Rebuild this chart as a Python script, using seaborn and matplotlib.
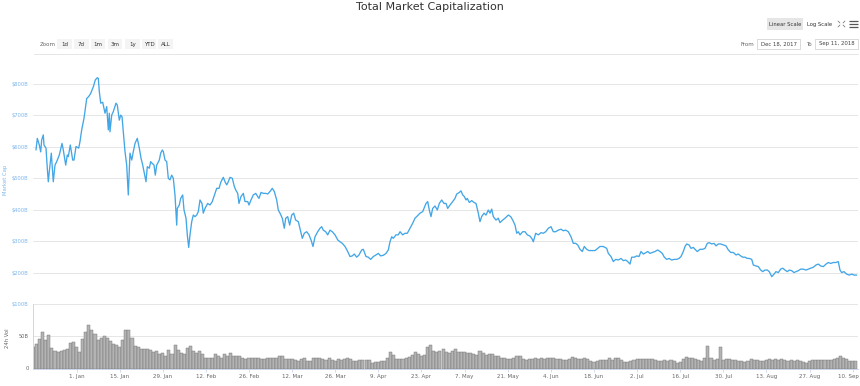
import numpy as np
import pandas as pd
import matplotlib
matplotlib.use("Agg")
import matplotlib.pyplot as plt
import matplotlib.transforms as mtransforms
import seaborn as sns
from matplotlib.patches import Rectangle

sns.set_theme(style="white")
plt.rcParams['font.family'] = ['DejaVu Sans']

# ---------------- data ----------------
start_date = "2017-12-18"

# days since 18 Dec 2017, market cap in $B
cap_day = [0.84, 1.27, 1.92, 2.37, 2.69, 3.21, 3.44, 4.09, 4.51, 4.84, 5.16, 5.81, 6.46, 7.01, 7.56, 8.41,
           9.29, 9.71, 10.49, 11.01, 11.33, 11.98, 12.76, 13.18, 13.83, 14.71, 15.13, 15.68, 16.43, 17.31,
           17.95, 18.60, 19.03, 19.45, 20.10, 20.75, 21.07, 21.40, 21.85, 22.50, 23.25, 23.80, 24.32, 24.64,
           24.87, 25.42, 25.94, 26.82, 27.24, 27.89, 28.34, 28.77, 29.19, 29.74, 30.29, 30.81, 31.36, 31.92,
           32.44, 32.99, 33.73, 34.38, 34.94, 35.49, 35.91, 36.56, 36.98, 37.63, 38.08, 38.51, 39.16, 39.58,
           40.03, 40.88, 41.33, 41.85, 42.18, 42.73, 43.28, 43.80, 44.35, 44.90, 45.42, 45.97, 46.53, 46.72,
           47.37, 47.82, 48.47, 48.90, 49.55, 49.97, 50.42, 50.84, 51.40, 51.92, 52.47, 53.02, 53.54, 54.09,
           54.74, 55.16, 55.71, 56.59, 57.34, 58.08, 58.96, 59.51, 60.26, 60.91, 61.66, 62.21, 62.76, 63.28,
           63.83, 64.58, 65.23, 65.68, 66.33, 66.75, 67.40, 68.15, 68.70, 69.58, 70.00, 70.65, 71.40, 72.18,
           72.82, 73.25, 73.90, 74.64, 75.42, 76.07, 76.82, 77.56, 78.21, 78.99, 79.51, 80.06, 80.81, 81.46,
           81.92, 82.56, 83.21, 83.86, 84.51, 85.16, 86.01, 86.66, 87.31, 87.95, 88.73, 89.48, 90.13, 90.78,
           91.43, 92.31, 93.05, 93.60, 94.12, 94.90, 95.55, 96.30, 97.05, 97.92, 98.80, 99.55, 100.29, 101.17,
           102.05, 102.79, 103.54, 104.19, 104.97, 105.71, 106.59, 107.11, 107.99, 108.73, 109.51, 110.36,
           111.23, 111.98, 112.76, 113.60, 114.48, 115.23, 115.78, 116.33, 116.85, 117.73, 118.47, 119.03,
           119.90, 120.65, 121.40, 122.27, 123.15, 123.90, 124.64, 125.52, 126.40, 126.82, 127.47, 128.02,
           128.54, 129.09, 129.63, 130.39, 131.14, 131.79, 132.56, 133.31, 133.96, 134.51, 135.26, 136.14,
           136.88, 137.44, 138.28, 138.83, 139.38, 139.90, 140.45, 140.87, 141.53, 142.30, 143.05, 143.70,
           144.45, 144.99, 145.54, 146.30, 146.95, 147.69, 148.25, 148.80, 149.32, 150.19, 150.94, 151.49,
           152.37, 153.12, 154.19, 154.97, 155.62, 156.37, 156.92, 157.44, 157.99, 158.86, 159.61, 160.36,
           161.23, 161.98, 162.31, 163.08, 163.93, 164.81, 165.55, 166.33, 167.18, 168.05, 168.80, 169.58,
           170.42, 171.30, 172.05, 172.82, 173.67, 174.55, 175.29, 176.07, 176.72, 177.47, 178.21, 178.86,
           179.64, 180.39, 181.27, 182.34, 183.21, 183.96, 185.03, 186.14, 186.66, 187.53, 188.28, 189.06,
           189.90, 190.78, 191.53, 192.31, 192.95, 193.70, 194.25, 195.10, 195.88, 196.62, 197.27, 198.02,
           198.80, 199.45, 200.19, 200.94, 201.82, 202.69, 203.44, 204.19, 204.84, 205.62, 206.36, 207.24,
           208.08, 208.86, 209.61, 210.26, 211.01, 211.56, 212.11, 212.86, 213.51, 214.26, 214.81, 215.55,
           216.43, 217.30, 218.05, 218.80, 219.45, 220.23, 221.00, 221.62, 222.37, 223.15, 224.00, 224.87,
           225.62, 226.40, 227.24, 228.12, 228.86, 229.64, 230.29, 231.04, 231.79, 232.44, 233.22, 233.74,
           234.61, 235.36, 236.14, 236.79, 237.53, 238.28, 238.93, 239.71, 240.45, 241.10, 241.85, 242.63,
           243.28, 244.03, 244.77, 245.42, 246.20, 246.95, 247.60, 248.34, 249.12, 249.97, 250.84, 251.59,
           252.37, 253.21, 254.09, 254.84, 255.62, 256.46, 257.34, 258.08, 258.86, 259.71, 260.58, 261.33,
           261.88, 262.43, 263.18, 264.06, 264.90, 265.68, 266.43, 267.31]
cap_value = [590, 627, 606, 584, 622, 638, 606, 596, 532, 489, 521, 580, 489, 542, 553, 574,
             611, 590, 542, 574, 569, 606, 558, 558, 601, 596, 617, 654, 691, 754,
             760, 770, 781, 791, 813, 820, 818, 776, 739, 742, 707, 728, 654, 707,
             648, 701, 712, 739, 733, 685, 701, 696, 648, 585, 542, 447, 580, 558,
             585, 611, 627, 596, 564, 542, 521, 489, 537, 532, 553, 548, 542, 510,
             542, 558, 580, 590, 585, 558, 553, 500, 495, 510, 500, 447, 351, 404,
             415, 436, 447, 399, 373, 320, 280, 320, 362, 383, 378, 383, 394, 431,
             420, 389, 404, 420, 415, 426, 452, 468, 468, 489, 503, 489, 479, 489,
             503, 500, 474, 463, 452, 420, 442, 452, 426, 426, 415, 431, 447, 452,
             442, 436, 455, 452, 452, 450, 458, 468, 458, 431, 399, 389, 373, 341,
             373, 378, 351, 383, 389, 367, 362, 335, 309, 325, 330, 320, 304, 283,
             314, 330, 341, 346, 335, 330, 320, 335, 330, 320, 304, 298, 293, 283,
             267, 251, 253, 259, 249, 256, 272, 274, 251, 249, 242, 251,
             256, 261, 253, 255, 261, 272, 298, 314, 309, 320, 320, 330,
             320, 325, 325, 341, 357, 373, 380, 389, 394, 404, 420, 426,
             399, 378, 404, 412, 399, 420, 431, 420, 420, 404, 415, 426,
             436, 450, 455, 460, 447, 442, 431, 436, 423, 429, 423, 420,
             389, 362, 378, 389, 383, 399, 389, 402, 378, 367, 373, 359,
             367, 373, 383, 378, 367, 351, 325, 330, 320, 330, 330, 320,
             316, 306, 298, 325, 320, 327, 325, 330, 341, 346, 330, 330,
             335, 338, 333, 335, 330, 314, 293, 293, 288, 274, 267, 283,
             274, 270, 270, 270, 277, 283, 283, 277, 261, 251, 235, 242,
             240, 245, 238, 240, 235, 227, 249, 249, 253, 251, 267, 259,
             263, 267, 261, 264, 267, 272, 267, 261, 249, 242, 245, 240,
             242, 242, 245, 251, 267, 283, 291, 288, 277, 280, 274, 267,
             274, 274, 277, 293, 295, 291, 293, 285, 291, 291, 288, 285,
             272, 264, 264, 256, 259, 253, 249, 249, 245, 245, 242, 224,
             221, 219, 208, 203, 208, 208, 203, 187, 195, 203, 200, 211,
             214, 208, 203, 208, 206, 200, 203, 206, 211, 211, 208, 211,
             214, 217, 224, 227, 221, 219, 227, 232, 229, 232, 232, 235,
             208, 200, 203, 195, 192, 195, 192, 192]

# daily 24h volume in $B (one value per day from 18 Dec 2017)
vol_value = [33, 38, 46, 57, 44, 52, 32, 27, 26, 27,
             28, 31, 40, 41, 33, 25, 46, 56, 68, 60,
             54, 44, 48, 51, 48, 43, 38, 36, 34, 44,
             59, 60, 48, 35, 33, 31, 30, 30, 28, 26,
             27, 22, 24, 20, 28, 23, 36, 29, 24, 22,
             32, 35, 27, 24, 27, 22, 17, 17, 17, 22,
             19, 17, 22, 19, 24, 20, 20, 19, 17, 14,
             17, 17, 17, 17, 15, 14, 16, 17, 17, 17,
             19, 19, 15, 14, 14, 13,
             12, 15, 16, 12, 11, 17, 17, 16, 14, 13,
             17, 13, 12, 14, 13, 14, 16, 14, 12, 12,
             13, 13, 13, 13, 9, 10, 10, 11, 11, 16,
             25, 21, 15, 14, 14, 16, 18, 21, 25, 22,
             20, 21, 33, 37, 27, 25, 27, 30, 26, 24,
             27, 30, 26, 26, 25, 24, 24, 22, 21, 27,
             24, 21, 22, 22, 20, 19, 17, 16, 15, 15,
             17, 20, 19, 14, 13, 14, 15, 17, 14, 17,
             15, 17, 16, 16, 14, 14, 13, 13, 14, 18,
             16, 15, 15, 17, 14, 11, 10,
             12, 13, 13, 13, 17, 13, 16, 17, 13, 10,
             10, 12, 13, 14, 14, 15, 14, 14, 14, 13,
             12, 12, 13, 12, 13, 12, 9, 10, 14, 18,
             17, 16, 15, 13, 12, 16, 35, 16, 13, 14,
             33, 13, 14, 15, 13, 13, 12, 12, 10, 12,
             14, 13, 13, 12, 12, 13, 15, 13, 14, 13,
             14, 13, 12, 13, 12, 13, 12, 10, 9, 11,
             13, 13, 13, 13, 13, 13, 13, 14, 16, 19,
             17, 14, 12, 12, 12]
vol_day = list(range(len(vol_value)))

tick_dates = ["2018-01-01", "2018-01-15", "2018-01-29", "2018-02-12", "2018-02-26", "2018-03-12",
              "2018-03-26", "2018-04-09", "2018-04-23", "2018-05-07", "2018-05-21", "2018-06-04",
              "2018-06-18", "2018-07-02", "2018-07-16", "2018-07-30", "2018-08-13", "2018-08-27",
              "2018-09-10"]
tick_labels = ["1. Jan", "15. Jan", "29. Jan", "12. Feb", "26. Feb", "12. Mar", "26. Mar", "9. Apr",
               "23. Apr", "7. May", "21. May", "4. Jun", "18. Jun", "2. Jul", "16. Jul", "30. Jul",
               "13. Aug", "27. Aug", "10. Sep"]
cap_ticks = [100, 200, 300, 400, 500, 600, 700, 800]
cap_tick_labels = ["$100B", "$200B", "$300B", "$400B", "$500B", "$600B", "$700B", "$800B"]
vol_ticks = [0, 50]
vol_tick_labels = ["0", "50B"]
zoom_buttons = ["1d", "7d", "1m", "3m", "1y", "YTD", "ALL"]
title = "Total Market Capitalization"

# ---------------- layout ----------------
W, H = 860, 386
LINE = "#43a6e6"
LABEL_BLUE = "#7cb5ec"
GRID = "#e6e6e6"
AXIS = "#ccd6eb"

fig = plt.figure(figsize=(W / 100, H / 100), dpi=100)
fig.patch.set_facecolor("white")

def fx(x):
    return x / W

def fy(y):
    return 1 - y / H

left, right = 33.4, 858.0
top_main, bottom_main, bottom_vol = 60.0, 304.0, 368.5
px_per_day = 3.08
x_max = (right - left) / px_per_day

ax = fig.add_axes([fx(left), fy(bottom_main), (right - left) / W, (bottom_main - top_main) / H])
axv = fig.add_axes([fx(left), fy(bottom_vol), (right - left) / W, (bottom_vol - bottom_main) / H])

start = pd.Timestamp(start_date)
df = pd.DataFrame({"day": cap_day, "cap": cap_value})
sns.lineplot(data=df, x="day", y="cap", ax=ax, color=LINE, linewidth=0.95)

dv = pd.DataFrame({"day": vol_day, "vol": vol_value})
sns.barplot(data=dv, x="day", y="vol", ax=axv, native_scale=True, width=1,
            color="#b3b3b3", saturation=1, edgecolor="#6e6e6e", linewidth=0.3)

tick_pos = [(pd.Timestamp(d) - start).days for d in tick_dates]

# main axis styling
ax.set_xlim(0, x_max)
ax.set_ylim(100, 800 + (84 - top_main) / ((bottom_main - 84) / 700))
ax.set_yticks(cap_ticks)
ax.set_yticklabels(cap_tick_labels)
ax.set_xticks([])
ax.set_xlabel("")
ax.set_ylabel("")
ax.grid(axis="y", color=GRID, linewidth=0.7)
ax.set_axisbelow(True)
for s in ax.spines.values():
    s.set_visible(False)
ax.tick_params(axis="y", labelsize=3.7, colors=LABEL_BLUE, length=0, pad=3.5)

# volume axis styling
axv.set_xlim(0, x_max)
axv.set_ylim(0, 100)
axv.set_yticks(vol_ticks + [100])
axv.set_yticklabels(vol_tick_labels + [""])
axv.set_xticks(tick_pos)
axv.set_xticklabels(tick_labels)
axv.set_xlabel("")
axv.set_ylabel("")
axv.grid(axis="y", color=GRID, linewidth=0.7)
axv.set_axisbelow(True)
for k, s in axv.spines.items():
    if k in ("left", "bottom"):
        s.set_visible(True)
        s.set_color(AXIS)
        s.set_linewidth(0.7)
    else:
        s.set_visible(False)
axv.tick_params(axis="y", labelsize=3.7, colors="#666666", length=0, pad=3.5)
axv.tick_params(axis="x", labelsize=4, labelcolor="#666666", color=AXIS, direction="out",
                length=2.5, width=0.6, pad=1.5, bottom=True)
# keep the last date label inside the figure (like the reference)
last_lab = axv.get_xticklabels()[-1]
last_lab.set_transform(last_lab.get_transform() +
                       mtransforms.ScaledTranslation(-4 / 100, 0, fig.dpi_scale_trans))

# ---------------- overlay (UI text) ----------------
ov = fig.add_axes([0, 0, 1, 1])
ov.set_xlim(0, W)
ov.set_ylim(H, 0)
ov.axis("off")
ov.patch.set_alpha(0)

ov.text(430, 7.5, title, ha="center", va="center", fontsize=8, color="#333333")

# y titles
ov.text(6, 180, "Market Cap", rotation=90, ha="center", va="center", fontsize=3.8, color=LABEL_BLUE)
ov.text(7.5, 338, "24h Vol", rotation=90, ha="center", va="center", fontsize=3.8, color="#666666")

# scale buttons
ov.add_patch(Rectangle((767, 18), 35.5, 12, facecolor="#e6e6e6", edgecolor="none"))
ov.text(784.7, 24.2, "Linear Scale", ha="center", va="center", fontsize=3.8, color="#333333")
ov.text(819.5, 24.2, "Log Scale", ha="center", va="center", fontsize=3.8, color="#333333")
# fullscreen icon
c = "#666666"
for (x0, y0, dx, dy) in [(838, 21, 1, 1), (845, 21, -1, 1), (838, 27, 1, -1), (845, 27, -1, -1)]:
    ov.plot([x0, x0 + 2 * dx], [y0, y0 + 2 * dy], color=c, lw=0.5)
# hamburger
for yy in (21.3, 24.0, 26.7):
    ov.plot([848.5, 857.5], [yy, yy], color="#555555", lw=0.9, solid_capstyle="butt")

# zoom buttons
ov.text(47.5, 44, "Zoom", ha="center", va="center", fontsize=4, color="#666666")
bx = [57.3, 74.0, 90.7, 107.7, 125.3, 141.7, 158.3]
for x0, lab in zip(bx, zoom_buttons):
    ov.add_patch(Rectangle((x0, 39.3), 14.5, 9.4, facecolor="#f4f4f4", edgecolor="none"))
    ov.text(x0 + 7.25, 44.1, lab, ha="center", va="center", fontsize=4, color="#333333")

# date inputs
ov.text(754, 44, "From", ha="right", va="center", fontsize=4, color="#666666")
ov.add_patch(Rectangle((757, 39), 43, 9.6, facecolor="white", edgecolor="#cccccc", lw=0.5))
ov.text(778.5, 44, "Dec 18, 2017", ha="center", va="center", fontsize=3.9, color="#444444")
ov.text(809, 44, "To", ha="center", va="center", fontsize=4, color="#666666")
ov.add_patch(Rectangle((815, 39), 43, 9.6, facecolor="white", edgecolor="#cccccc", lw=0.5))
ov.text(836.5, 44, "Sep 11, 2018", ha="center", va="center", fontsize=3.9, color="#444444")

# separator line
ov.plot([34, 858], [54, 54], color=GRID, lw=0.7)

fig.savefig("out.png", dpi=100, facecolor="white")
